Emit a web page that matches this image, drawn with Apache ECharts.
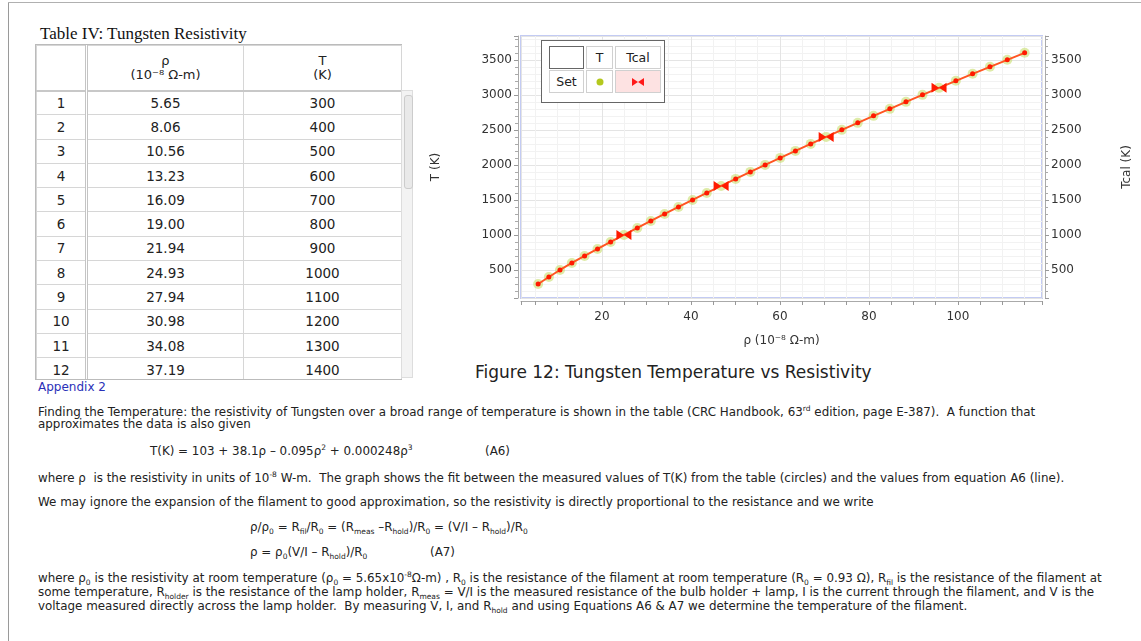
<html>
<head>
<meta charset="utf-8" />
<title>Tungsten Resistivity</title>
<script src="https://cdn.jsdelivr.net/npm/echarts@6/dist/echarts.min.js"></script>
<script type="text/javascript">
    // CRC table values (rho in 10^-8 ohm-m, T in K)
    var rho = [5.65, 8.06, 10.56, 13.23, 16.09, 19.00, 21.94, 24.93, 27.94, 30.98, 34.08, 37.19,
               40.36, 43.55, 46.78, 50.05, 53.35, 56.67, 60.06, 63.48, 66.91, 70.39, 73.91, 77.49,
               81.04, 84.70, 88.33, 92.04, 95.76, 99.54, 103.3, 107.2, 111.1, 115.0];
    var tempK = [300, 400, 500, 600, 700, 800, 900, 1000, 1100, 1200, 1300, 1400,
                 1500, 1600, 1700, 1800, 1900, 2000, 2100, 2200, 2300, 2400, 2500, 2600,
                 2700, 2800, 2900, 3000, 3100, 3200, 3300, 3400, 3500, 3600];
    // values from equation A6
    var tcal = [300, 400, 500, 600, 700, 800, 900, 1000, 1100, 1200, 1300, 1400,
                1500, 1600, 1700, 1800, 1900, 2000, 2100, 2200, 2300, 2400, 2500, 2600,
                2700, 2800, 2900, 3000, 3100, 3200, 3300, 3400, 3500, 3600];
    // points of Tcal drawn with the bow-tie marker
    var bowtieIdx = [7, 14, 21, 28];
    var tableRows = 12;
</script>
<style>
    body { margin: 0; width: 1141px; height: 641px; background: #fff; position: relative; overflow: hidden;
           font-family: "DejaVu Sans", sans-serif; color: #222; }
    .frameV { position: absolute; left: 8px; top: 2px; width: 1px; height: 641px; background: #9a9a9a; }
    .frameH { position: absolute; left: 8px; top: 2px; width: 1133px; height: 1px; background: #b0b0b0; }
    .ttl { position: absolute; left: 40px; top: 24px; font-family: "Liberation Serif", serif; font-size: 17px; color: #111; }
    #tbox { position: absolute; left: 35px; top: 44px; width: 366px; height: 334px; overflow: hidden;
            border-left: 1px solid #bbb; border-top: 1px solid #bbb; border-bottom: 1px solid #bbb; }
    #tbl { border-collapse: collapse; table-layout: fixed; font-size: 13.5px; }
    #tbl td { border: 1px solid #d6d6d6; text-align: center; padding: 0; height: 24.3px; }
    #tbl td.ix { border-right: 3px double #c4c4c4; }
    #tbl tr.hd td { height: 45px; font-size: 13px; line-height: 14px; border-bottom: 2px solid #c8c8c8; }
    #tbl tr.r1 td.tc { border-left: 1px solid #999; border-top: 1px solid #999; }
    .sb { position: absolute; left: 401px; top: 90px; width: 12px; height: 288px; background: #f3f3f3; border: 1px solid #ddd; box-sizing: border-box; }
    .sbt { position: absolute; left: 2px; top: 4px; width: 7px; height: 92px; background: #e9e9e9; border: 1px solid #ccc; border-radius: 3px; }
    #chart { position: absolute; left: 420px; top: 30px; width: 721px; height: 330px; }
    #legend { position: absolute; left: 541px; top: 40px; width: 124px; height: 63px; border: 1px solid #666;
              background: #fff; box-sizing: border-box; }
    #legend table { position: absolute; left: 5px; top: 4px; border-collapse: separate; border-spacing: 2px 1px; font-size: 12.5px; }
    #legend td { border: 1px solid #d0d0d0; height: 23px; text-align: center; padding: 0; }
    .cap { position: absolute; left: 475px; top: 362px; font-size: 17px; color: #222; }
    .ln { position: absolute; left: 38px; font-size: 11.9px; line-height: 14px; white-space: nowrap; color: #222; }
    .ln sub, .ln sup { font-size: 7.5px; line-height: 0; }
    .app { color: #2a30b8; font-size: 12px; }
</style>
</head>
<body>
<div class="frameV"></div>
<div class="frameH"></div>
<div class="ttl">Table IV: Tungsten Resistivity</div>
<div id="tbox">
    <table id="tbl">
        <colgroup><col style="width:50px" /><col style="width:157px" /><col style="width:158px" /></colgroup>
        <tr class="hd"><td class="ix"></td><td>ρ<br />(10⁻⁸ Ω-m)</td><td>T<br />(K)</td></tr>
    </table>
</div>
<div class="sb"><div class="sbt"></div></div>

<div id="chart"></div>
<div id="legend">
    <table>
        <tr><td style="width:33px;border:1px solid #666"></td><td style="width:25px">T</td><td style="width:44px">Tcal</td></tr>
        <tr><td>Set</td>
            <td><svg width="10" height="10"><circle cx="5" cy="5" r="3.5" fill="#b4c81e" /></svg></td>
            <td style="background:#fde2e2"><svg width="12" height="8"><path d="M0,0L6,4L0,8ZM12,0L6,4L12,8Z" fill="#ff1a1a" /></svg></td></tr>
    </table>
</div>
<div class="cap">Figure 12: Tungsten Temperature vs Resistivity</div>

<div class="ln app" style="top:380px">Appendix 2</div>
<div class="ln" style="top:405px">Finding the Temperature: the resistivity of Tungsten over a broad range of temperature is shown in the table (CRC Handbook, 63<sup>rd</sup> edition, page E-387).&nbsp; A function that</div>
<div class="ln" style="top:417px">approximates the data is also given</div>
<div class="ln" style="top:444px;left:150px">T(K) = 103 + 38.1ρ – 0.095ρ<sup>2</sup> + 0.000248ρ<sup>3</sup></div>
<div class="ln" style="top:444px;left:485px">(A6)</div>
<div class="ln" style="top:471px">where ρ&nbsp; is the resistivity in units of 10<sup>-8</sup> W-m.&nbsp; The graph shows the fit between the measured values of T(K) from the table (circles) and the values from equation A6 (line).</div>
<div class="ln" style="top:495px">We may ignore the expansion of the filament to good approximation, so the resistivity is directly proportional to the resistance and we write</div>
<div class="ln" style="top:520px;left:250px">ρ/ρ<sub>0</sub> = R<sub>fil</sub>/R<sub>0</sub> = (R<sub>meas</sub> –R<sub>hold</sub>)/R<sub>0</sub> = (V/I – R<sub>hold</sub>)/R<sub>0</sub></div>
<div class="ln" style="top:545px;left:250px">ρ = ρ<sub>0</sub>(V/I – R<sub>hold</sub>)/R<sub>0</sub></div>
<div class="ln" style="top:545px;left:430px">(A7)</div>
<div class="ln" style="top:571px">where ρ<sub>0</sub> is the resistivity at room temperature (ρ<sub>0</sub> = 5.65x10<sup>-8</sup>Ω-m) , R<sub>0</sub> is the resistance of the filament at room temperature (R<sub>0</sub> = 0.93 Ω), R<sub>fil</sub> is the resistance of the filament at</div>
<div class="ln" style="top:585px">some temperature, R<sub>holder</sub> is the resistance of the lamp holder, R<sub>meas</sub> = V/I is the measured resistance of the bulb holder + lamp, I is the current through the filament, and V is the</div>
<div class="ln" style="top:599px">voltage measured directly across the lamp holder.&nbsp; By measuring V, I, and R<sub>hold</sub> and using Equations A6 &amp; A7 we determine the temperature of the filament.</div>

<script type="text/javascript">
    function fillTable() {
        var tbl = document.getElementById('tbl');
        for (var i = 0; i < tableRows; i++) {
            var tr = document.createElement('tr');
            if (i === 0) tr.className = 'r1';
            tr.innerHTML = '<td class="ix">' + (i + 1) + '</td><td>' + rho[i].toFixed(2) + '</td><td class="tc">' + tempK[i] + '</td>';
            tbl.appendChild(tr);
        }
    }

    function renderChart() {
        var chart = echarts.init(document.getElementById('chart'));
        var bowtie = 'path://M0,0L10,5L0,10ZM20,0L10,5L20,10Z';
        var txt = { fontFamily: 'DejaVu Sans', fontSize: 12, color: '#333' };
        var plain = function (v) { return String(v); };

        var measured = rho.map(function (r, i) { return [r, tempK[i]]; });
        var calc = rho.map(function (r, i) {
            if (bowtieIdx.indexOf(i) >= 0) {
                return { value: [r, tcal[i]], symbol: bowtie, symbolSize: [15, 10] };
            }
            return [r, tcal[i]];
        });

        function yAx(pos, name) {
            return {
                type: 'value', position: pos, min: 100, max: 3840, splitNumber: 7, offset: 3,
                name: name, nameLocation: 'middle', nameGap: 76, nameTextStyle: txt,
                axisLine: { show: true, lineStyle: { color: '#aaa' } },
                axisTick: { show: true, length: 4, lineStyle: { color: '#999' } },
                minorTick: { show: true, splitNumber: 5, length: 3, lineStyle: { color: '#aaa' } },
                axisLabel: Object.assign({ showMinLabel: false, showMaxLabel: false, margin: 6, formatter: plain }, txt),
                splitLine: { show: pos === 'left', lineStyle: { color: '#e4e4e4' } },
                minorSplitLine: { show: pos === 'left', lineStyle: { color: '#f2f2f2' } }
            };
        }

        var option = {
            animation: false,
            grid: { left: 101, right: 99, top: 6, bottom: 62, show: true, backgroundColor: '#fff',
                    borderColor: '#c3cbf3', borderWidth: 2 },
            xAxis: {
                type: 'value', min: 1.8, max: 118.9, splitNumber: 6, offset: 3,
                name: 'ρ (10⁻⁸ Ω-m)', nameLocation: 'middle', nameGap: 34, nameTextStyle: txt,
                axisLine: { show: true, onZero: false, lineStyle: { color: '#aaa' } },
                axisTick: { show: true, length: 4, lineStyle: { color: '#999' } },
                minorTick: { show: true, splitNumber: 4, length: 4, lineStyle: { color: '#999' } },
                axisLabel: Object.assign({ showMinLabel: false, showMaxLabel: false, margin: 10, formatter: plain }, txt),
                splitLine: { show: true, lineStyle: { color: '#e4e4e4' } },
                minorSplitLine: { show: true, lineStyle: { color: '#f2f2f2' } }
            },
            yAxis: [yAx('left', 'T (K)'), yAx('right', 'Tcal (K)')],
            series: [
                {
                    name: 'T', type: 'scatter', yAxisIndex: 0, data: measured,
                    symbol: 'circle', symbolSize: 10,
                    itemStyle: { color: 'rgba(200,222,110,0.75)' }, z: 2
                },
                {
                    name: 'Tcal', type: 'line', yAxisIndex: 1, data: calc,
                    symbol: 'circle', symbolSize: 5, showSymbol: true,
                    lineStyle: { color: '#ff5522', width: 2 },
                    itemStyle: { color: '#ff1a00' }, z: 3
                }
            ]
        };
        chart.setOption(option);
    }

    fillTable();
    renderChart();
</script>
</body>
</html>
